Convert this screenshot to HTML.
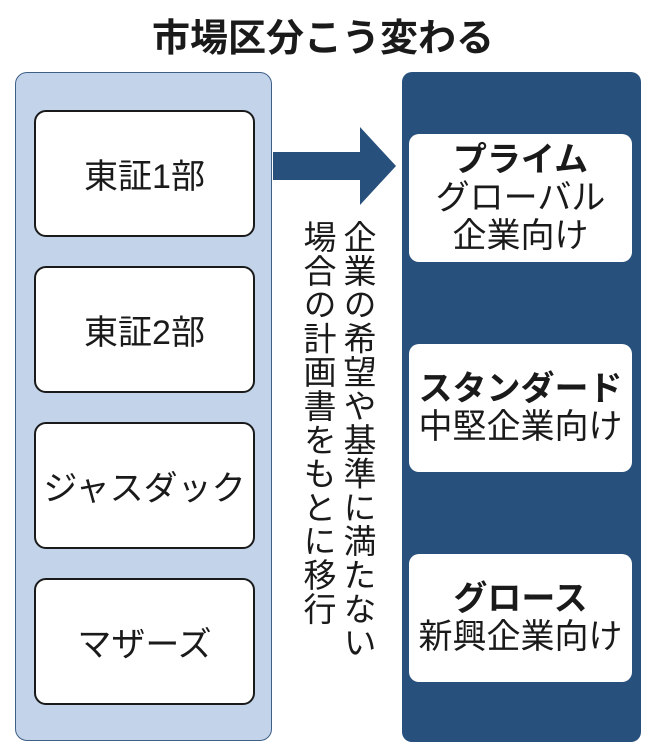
<!DOCTYPE html>
<html><head><meta charset="utf-8"><style>
body{margin:0;width:646px;height:755px;background:#fff;position:relative;overflow:hidden;font-family:"Liberation Sans","Noto Sans CJK JP",sans-serif;color:#1a1a1a}
.abs{position:absolute}
.title{left:0;width:646px;top:14px;text-align:center;font-size:38px;font-weight:bold;line-height:50px}
.lp{left:15px;top:72px;width:257px;height:669px;background:#c3d3ea;border:1.5px solid #3e5f86;border-radius:12px;box-sizing:border-box}
.lb{left:34px;width:221px;height:127px;background:#fff;border:2.5px solid #1a1a1a;border-radius:12px;box-sizing:border-box;display:flex;align-items:center;justify-content:center;font-size:34px;white-space:nowrap}
.rp{left:402px;top:72px;width:239px;height:670px;background:#27507d;border-radius:10px}
.rb{left:409px;width:223px;height:128px;background:#fff;border-radius:10px;display:flex;flex-direction:column;align-items:center;justify-content:center;font-size:34px;line-height:38px;text-align:center;white-space:nowrap}
.rb b{font-size:34px}
.v{writing-mode:vertical-rl;font-size:33px;line-height:36px;letter-spacing:0.8px;top:220px}
</style></head><body>
<div class="abs title">市場区分こう変わる</div>
<div class="abs lp"></div>
<div class="abs lb" style="top:110px">東証1部</div>
<div class="abs lb" style="top:266px">東証2部</div>
<div class="abs lb" style="top:422px">ジャスダック</div>
<div class="abs lb" style="top:578px">マザーズ</div>
<svg class="abs" style="left:0;top:0" width="646" height="755"><polygon points="273,152 360,152 360,127 396,166 360,205 360,180 273,180" fill="#27507d"/></svg>
<div class="abs v" style="left:339px">企業の希望や基準に満たない</div>
<div class="abs v" style="left:299px">場合の計画書をもとに移行</div>
<div class="abs rp"></div>
<div class="abs rb" style="top:134px"><b>プライム</b><span>グローバル</span><span>企業向け</span></div>
<div class="abs rb" style="top:344px"><b>スタンダード</b><span>中堅企業向け</span></div>
<div class="abs rb" style="top:554px"><b>グロース</b><span>新興企業向け</span></div>
</body></html>
